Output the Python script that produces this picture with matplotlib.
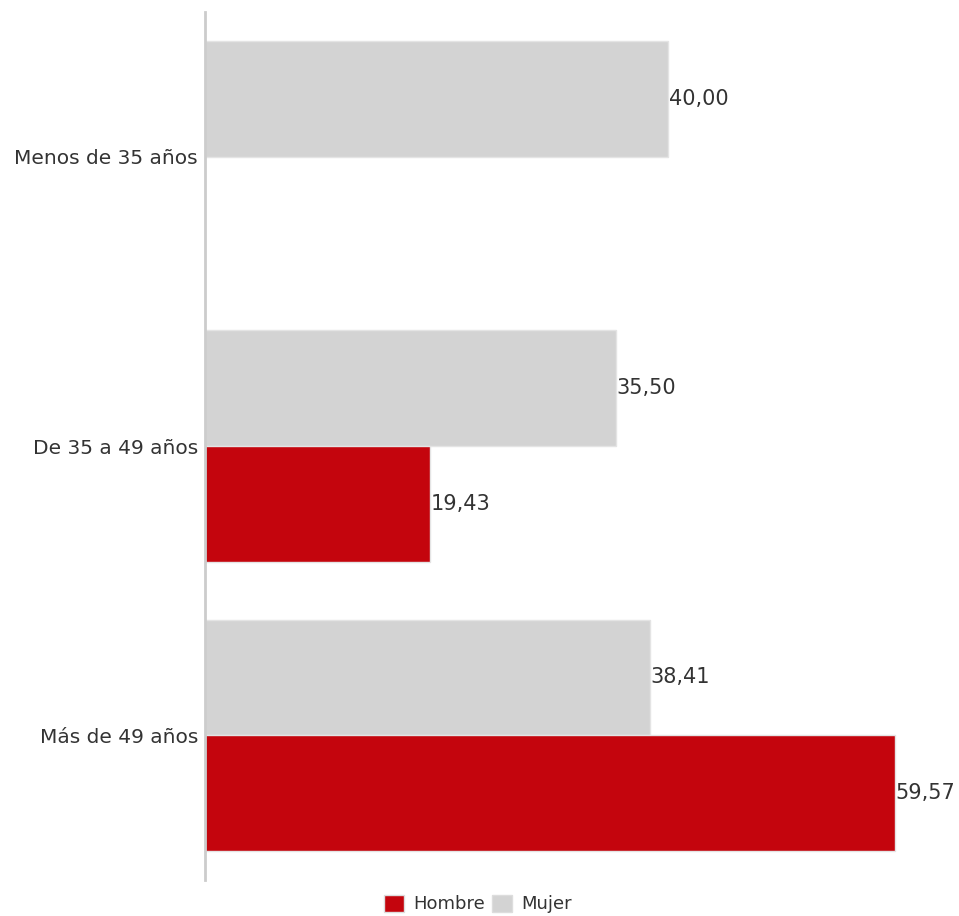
import matplotlib.pyplot as plt
import numpy as np

categorias = ["Menos de 35 años", "De 35 a 49 años", "Más de 49 años"]
mujer = [40.00, 35.50, 38.41]
hombre = [np.nan, 19.43, 59.57]

color_hombre = "#c4050d"
color_mujer = "#d3d3d3"

fig = plt.figure(figsize=(9.59, 9.16), dpi=100)
ax = fig.add_axes([205 / 959, 36 / 916, 740 / 959, 868 / 916])

y = np.arange(len(categorias))
h = 0.4
ax.barh(y - h / 2, mujer, height=h, color=color_mujer, edgecolor="#e4e4e4", linewidth=1, label="Mujer")
ax.barh(y + h / 2, hombre, height=h, color=color_hombre, edgecolor="#e4e4e4", linewidth=1, label="Hombre")

for yi, v in zip(y, mujer):
    ax.text(v + 0.05, yi - h / 2, f"{v:.2f}".replace(".", ","), va="center", ha="left",
            fontsize=15, color="#333333")
for yi, v in zip(y, hombre):
    if not np.isnan(v):
        ax.text(v + 0.05, yi + h / 2, f"{v:.2f}".replace(".", ","), va="center", ha="left",
                fontsize=15, color="#333333")

ax.set_xlim(0, 740 / 11.58)
ax.set_ylim(2.5, -0.5)
ax.set_yticks(y)
ax.set_yticklabels(categorias, fontsize=14.5, color="#333333")
ax.tick_params(axis="y", length=0, pad=5)
ax.set_xticks([])
for s in ["top", "right", "bottom"]:
    ax.spines[s].set_visible(False)
ax.spines["left"].set_color("#cccccc")
ax.spines["left"].set_linewidth(2)

handles = [plt.Rectangle((0, 0), 1, 1, facecolor=color_hombre, edgecolor="#dddddd"),
           plt.Rectangle((0, 0), 1, 1, facecolor=color_mujer, edgecolor="#dddddd")]
fig.legend(handles, ["Hombre", "Mujer"], loc="center", bbox_to_anchor=(478 / 959, 1 - 904 / 916),
           ncol=2, frameon=False, fontsize=13, handlelength=1.1, handleheight=1.1,
           handletextpad=0.5, columnspacing=0.4, labelcolor="#333333")

fig.savefig("out.png", dpi=100, facecolor="white")
